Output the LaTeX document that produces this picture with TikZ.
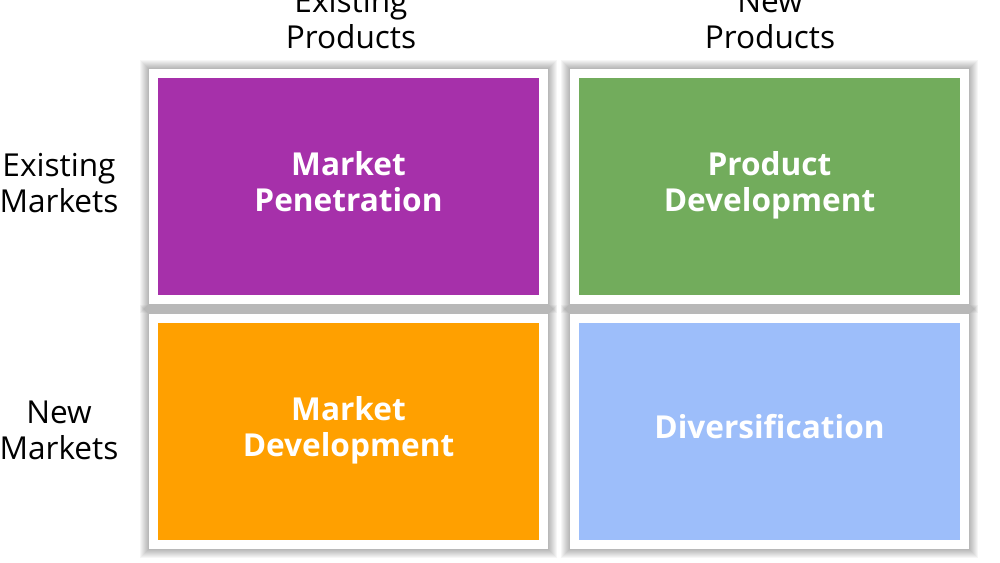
\documentclass[tikz,border=0pt]{standalone}
\usepackage{fontspec}
\setsansfont{Open Sans}
\usetikzlibrary{positioning, backgrounds}
\definecolor{mpPurple}{RGB}{166,48,170}
\definecolor{pdGreen}{RGB}{114,172,92}
\definecolor{mdOrange}{RGB}{255,160,0}
\definecolor{dvBlue}{RGB}{157,190,250}

\begin{document}
\begin{tikzpicture}[x=0.5pt, y=-0.5pt]

    % Sans-serif text
    \sffamily

    % Cells of the matrix
    \tikzset{cell/.style={draw = white, line width = 4.5pt, inner sep = 0pt, minimum width = 195pt, minimum height = 113pt, text = white, align = center, font = \fontsize{15.8}{18}\selectfont\bfseries}}
    \tikzset{lbl/.style={align = center, font = \fontsize{15.8}{18}\selectfont}}
    \tikzset{halo/.style={fill = black, opacity = 0.035}}

    \useasboundingbox (0,0) rectangle (1000,562);

    % Axis labels
    \node (ep) [lbl] at (351, 19) {Existing\\Products};
    \node (np) [lbl] at (770, 19) {New\\Products};
    \node (em) [lbl] at (59, 183) {Existing\\Markets};
    \node (nm) [lbl] at (59, 430) {New\\Markets};

    % Cells
    \node (mp) [cell, fill = mpPurple] at (348.5, 186.5) {\strut Market\\Penetration\strut};
    \node (pd) [cell, fill = pdGreen] at (769.5, 186.5) {\strut Product\\Development\strut};
    \node (md) [cell, fill = mdOrange] at (348.5, 431) {\strut Market\\Development\strut};
    \node (dv) [cell, fill = dvBlue] at (769.5, 431) {\strut Diversification\strut};

    % Soft shadows
    \begin{scope}[on background layer]
    	\foreach \c in {mp, pd, md, dv}
    		\foreach \i in {1,...,9}
    			\fill[halo] ([shift={(-\i,-\i)}]\c.north west) rectangle ([shift={(\i,\i)}]\c.south east);
    \end{scope}

\end{tikzpicture}
\end{document}
